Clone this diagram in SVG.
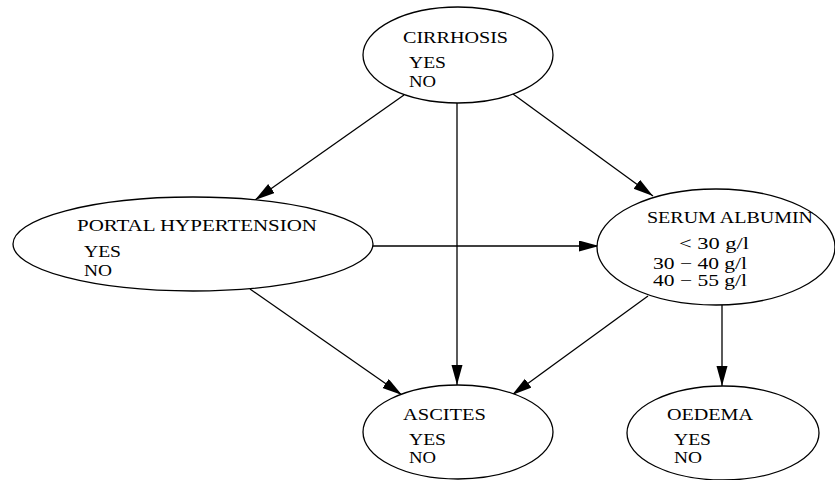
<svg xmlns="http://www.w3.org/2000/svg" width="835" height="480" viewBox="0 0 835 480">
<style>
  .node ellipse { fill: #ffffff; stroke: #000000; stroke-width: 1.3; }
  .node text { font-family: "Liberation Serif", "Times New Roman", serif; font-size: 16px; fill: #000000; }
  .edge { stroke: #000000; stroke-width: 1.3; fill: none; marker-end: url(#arrow); }
</style>
<defs>
  <marker id="arrow" markerUnits="userSpaceOnUse" markerWidth="20" markerHeight="12" refX="20" refY="5.5" orient="auto">
    <path d="M0,0 L20,5.5 L0,11 Z" fill="#000000"/>
  </marker>
</defs>
<rect width="835" height="480" fill="#ffffff"/>
<g id="connectors">
  <line class="edge" x1="404" y1="95" x2="255" y2="200"/>
  <line class="edge" x1="457" y1="103" x2="457" y2="385"/>
  <line class="edge" x1="513" y1="94" x2="653" y2="196"/>
  <line class="edge" x1="373" y1="246" x2="599" y2="246"/>
  <line class="edge" x1="250" y1="289" x2="402" y2="395"/>
  <line class="edge" x1="648" y1="296" x2="512" y2="395"/>
  <line class="edge" x1="722" y1="305" x2="722" y2="386"/>
</g>
<g id="cirrhosis" class="node">
  <ellipse cx="458" cy="55" rx="95" ry="48"/>
  <text x="403" y="43" textLength="105" lengthAdjust="spacingAndGlyphs">CIRRHOSIS</text>
  <text x="409" y="68" textLength="37" lengthAdjust="spacingAndGlyphs">YES</text>
  <text x="409" y="87" textLength="27" lengthAdjust="spacingAndGlyphs">NO</text>
</g>
<g id="portal_hypertension" class="node">
  <ellipse cx="193" cy="244" rx="180" ry="47"/>
  <text x="77" y="231" textLength="240" lengthAdjust="spacingAndGlyphs">PORTAL HYPERTENSION</text>
  <text x="84" y="257" textLength="37" lengthAdjust="spacingAndGlyphs">YES</text>
  <text x="84" y="276" textLength="28" lengthAdjust="spacingAndGlyphs">NO</text>
</g>
<g id="serum_albumin" class="node">
  <ellipse cx="716" cy="247" rx="119" ry="58"/>
  <text x="647" y="223" textLength="166" lengthAdjust="spacingAndGlyphs">SERUM ALBUMIN</text>
  <text x="679" y="249" textLength="70" lengthAdjust="spacingAndGlyphs">&lt; 30 g/l</text>
  <text x="653" y="269" textLength="94" lengthAdjust="spacingAndGlyphs">30 − 40 g/l</text>
  <text x="653" y="286" textLength="94" lengthAdjust="spacingAndGlyphs">40 − 55 g/l</text>
</g>
<g id="ascites" class="node">
  <ellipse cx="458" cy="432" rx="95" ry="47"/>
  <text x="403" y="420" textLength="83" lengthAdjust="spacingAndGlyphs">ASCITES</text>
  <text x="409" y="445" textLength="37" lengthAdjust="spacingAndGlyphs">YES</text>
  <text x="409" y="463" textLength="27" lengthAdjust="spacingAndGlyphs">NO</text>
</g>
<g id="oedema" class="node">
  <ellipse cx="723" cy="433" rx="96" ry="47"/>
  <text x="667" y="420" textLength="86" lengthAdjust="spacingAndGlyphs">OEDEMA</text>
  <text x="674" y="445" textLength="37" lengthAdjust="spacingAndGlyphs">YES</text>
  <text x="674" y="463" textLength="28" lengthAdjust="spacingAndGlyphs">NO</text>
</g>
</svg>
